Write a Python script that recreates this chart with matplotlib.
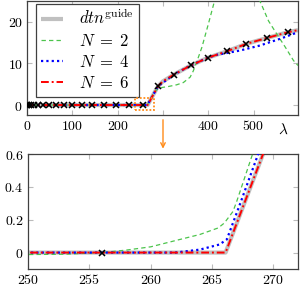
import numpy as np
import matplotlib
matplotlib.use("Agg")
import matplotlib.pyplot as plt
from matplotlib.patches import Rectangle, FancyArrowPatch

plt.rcParams['mathtext.fontset'] = 'cm'
plt.rcParams['font.family'] = ['DejaVu Serif']

# ---- data ----
lam_guide = [0, 266.1, 289, 300, 324, 361, 400, 441, 484, 529, 576, 598]
dtn_guide = [0, 0, 4.5, 5.7, 7.3, 9.5, 11.4, 12.9, 14.7, 16.1, 17.5, 18.0]

lam_n2 = [0, 230, 250, 253, 256, 258, 260, 262.6, 264, 265.5, 266, 266.7, 267, 268.3,
          280, 290, 300, 312, 330, 345, 360, 367, 375, 386, 400, 415, 425,
          505, 514, 533, 551, 570, 588, 598]
dtn_n2 = [0, -0.01, -0.012, -0.01, 0.0, 0.015, 0.035, 0.084, 0.11, 0.15, 0.18, 0.25, 0.31, 0.6,
          3.0, 4.0, 4.25, 4.45, 4.85, 5.4, 6.7, 8.2, 10.5, 13.9, 19.4, 25.5, 30,
          30, 25, 20.2, 17.1, 13.9, 10.7, 9.5]

lam_n4 = [0, 262, 264, 265.6, 266.2, 266.6, 267.2, 269, 289, 324, 361, 400, 420,
          441, 470, 514, 558, 598]
dtn_n4 = [0, 0, 0.018, 0.049, 0.08, 0.16, 0.28, 0.65, 4.5, 7.3, 9.5, 11.4, 12.1,
          12.5, 13.1, 14.3, 15.9, 17.5]

lam_n6 = [0, 266.1, 289, 300, 324, 361, 400, 441, 484, 529, 576, 598]
dtn_n6 = [0, 0, 4.5, 5.7, 7.3, 9.5, 11.4, 12.9, 14.7, 16.1, 17.5, 18.0]

k_vals = np.arange(0, 25)
lam_marks = k_vals ** 2
dtn_marks = [0] * 17 + [4.5, 7.3, 9.5, 11.4, 12.9, 14.7, 16.1, 17.5]

xt_top = [0, 100, 200, 300, 400, 500]
xt_top_lbl = ['0', '100', '200', '', '400', '500']
yt_top = [0, 10, 20]
xt_bot = [250, 255, 260, 265, 270]
yt_bot = [0, 0.2, 0.4, 0.6]

legend_labels = [r'$dtn^{\mathrm{guide}}$', r'$N\;=\;2$', r'$N\;=\;4$', r'$N\;=\;6$']

W, H = 300, 288
fig = plt.figure(figsize=(3.0, 2.88), dpi=100)
ax1 = fig.add_axes([27 / W, 1 - 115 / H, 271 / W, 114 / H])
ax2 = fig.add_axes([28 / W, 1 - 269 / H, 270 / W, 115 / H])

c_guide = '#c0c0c0'
c_n2 = '#4cc44c'
c_n4 = '#0000ff'
c_n6 = '#ff0000'


def draw(ax, ms):
    ax.plot(lam_guide, dtn_guide, color=c_guide, lw=3.0, solid_capstyle='butt',
            label=legend_labels[0], zorder=2)
    ax.plot(lam_n2, dtn_n2, color=c_n2, lw=0.9, dashes=(3.5, 2.5),
            label=legend_labels[1], zorder=3)
    ax.plot(lam_n4, dtn_n4, color=c_n4, lw=1.6, linestyle=(0, (1, 1.4)),
            label=legend_labels[2], zorder=4)
    ax.plot(lam_n6, dtn_n6, color=c_n6, lw=1.4, linestyle=(0, (4, 1.5, 1, 1.5)),
            label=legend_labels[3], zorder=5)
    ax.plot(lam_marks, dtn_marks, linestyle='none', marker='x', color='black',
            ms=ms, mew=1.1, zorder=6)


def style(ax):
    for s in ax.spines.values():
        s.set_color('#404040')
        s.set_linewidth(0.9)
    ax.tick_params(direction='in', top=True, right=True, length=3.5, width=0.8,
                   color='#bbbbbb', labelsize=10, pad=3)


draw(ax1, 4)
draw(ax2, 4.5)

ax1.set_xlim(0, 598)
ax1.set_ylim(-2.4, 25)
ax1.set_xticks(xt_top, labels=[f'${t}$' if t else '' for t in xt_top_lbl])
ax1.set_yticks(yt_top, labels=[f'${t}$' for t in yt_top])
ax1.text(0.945, -0.125, r'$\lambda$', transform=ax1.transAxes, ha='center',
         va='center', fontsize=11)

ax2.set_xlim(250, 272)
ax2.set_ylim(-0.1, 0.6)
ax2.set_xticks(xt_bot, labels=[f'${t}$' for t in xt_bot])
ax2.set_yticks(yt_bot, labels=[f'${t:g}$' for t in yt_bot])

style(ax1)
style(ax2)

leg = ax1.legend(loc='upper left', bbox_to_anchor=(0.033, 0.974), borderaxespad=0,
                 prop={'size': 12}, fancybox=False, framealpha=1, edgecolor='#404040',
                 handlelength=1.35, handletextpad=0.95, labelspacing=0.25,
                 borderpad=0.3)
leg.get_frame().set_linewidth(0.9)

# zoom indicator
rect = Rectangle((238, -1.2), 42, 2.8, fill=False, edgecolor='#ff8c1a', lw=1.3,
                 linestyle=(0, (1, 1)), zorder=7, clip_on=False)
ax1.add_patch(rect)

arrow = FancyArrowPatch((163 / W, 1 - 117 / H), (163 / W, 1 - 151.5 / H),
                        transform=fig.transFigure, arrowstyle='->', color='#ff8c1a',
                        lw=1.0, mutation_scale=8)
fig.add_artist(arrow)

fig.savefig('out.png', dpi=100)
